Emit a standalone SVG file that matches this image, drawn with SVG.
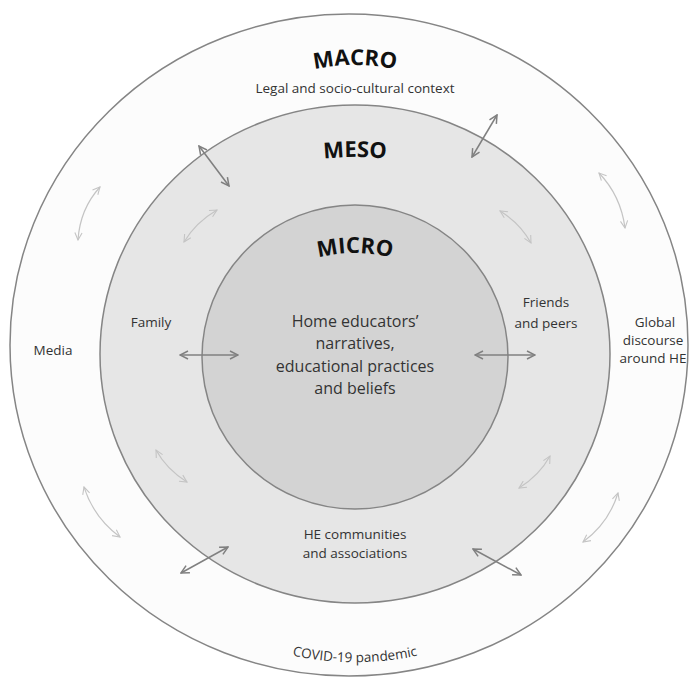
<svg xmlns="http://www.w3.org/2000/svg" xmlns:xlink="http://www.w3.org/1999/xlink" width="693" height="677" viewBox="0 0 693 677">
  <style>
    .ring { stroke: #858585; stroke-width: 1.5; }
    .title { font-family: "Open Sans", "Noto Sans", sans-serif; font-weight: 700; font-size: 22px; fill: #111; }
    .lbl { font-family: "Open Sans", "Noto Sans", sans-serif; font-size: 13.5px; fill: #333; text-anchor: middle; }
    .core { font-family: "Open Sans", "Noto Sans", sans-serif; font-size: 16px; fill: #333; text-anchor: middle; }
    .strong { fill: none; stroke: #808080; stroke-width: 1.5; marker-start: url(#headDark); marker-end: url(#headDark); }
    .soft { fill: none; stroke: #c4c4c4; stroke-width: 1.2; marker-start: url(#headLight); marker-end: url(#headLight); }
  </style>
  <defs>
    <marker id="headDark" viewBox="0 0 10 10" refX="9" refY="5" markerWidth="10" markerHeight="10" markerUnits="userSpaceOnUse" orient="auto-start-reverse">
      <path d="M1,1 L9,5 L1,9" fill="none" stroke="#808080" stroke-width="1.5"/>
    </marker>
    <marker id="headLight" viewBox="0 0 10 10" refX="9" refY="5" markerWidth="9" markerHeight="9" markerUnits="userSpaceOnUse" orient="auto-start-reverse">
      <path d="M1,1 L9,5 L1,9" fill="none" stroke="#c4c4c4" stroke-width="1.2"/>
    </marker>
    <path id="arcMacro" d="M205,132.7 A200,200 0 0 1 505,132.7"/>
    <path id="arcMeso" d="M205,197.2 A300,300 0 0 1 505,197.2"/>
    <path id="arcMicro" d="M255,291.2 A150,150 0 0 1 455,291.2"/>
    <path id="arcCovid" d="M205,622 A300,300 0 0 0 505,622"/>
  </defs>

  <rect width="693" height="677" fill="#ffffff"/>

  <!-- outer ring: macro level -->
  <g id="macro">
    <ellipse class="ring" cx="349" cy="345" rx="339" ry="331" fill="#fcfcfc"/>
    <text class="title"><textPath xlink:href="#arcMacro" startOffset="50%" text-anchor="middle">MACRO</textPath></text>
    <text class="lbl" x="355" y="93">Legal and socio-cultural context</text>
    <text class="lbl" x="53" y="355">Media</text>
    <text class="lbl" x="655" y="327" font-size="11.5">Global</text>
    <text class="lbl" x="653" y="345" font-size="13.5">discourse</text>
    <text class="lbl" x="653" y="363" font-size="11.5">around HE</text>
    <text class="lbl"><textPath xlink:href="#arcCovid" startOffset="50%" text-anchor="middle">COVID-19 pandemic</textPath></text>
  </g>

  <!-- middle ring: meso level -->
  <g id="meso">
    <ellipse class="ring" cx="355" cy="354" rx="255" ry="249" fill="#e6e6e6"/>
    <text class="title"><textPath xlink:href="#arcMeso" startOffset="50%" text-anchor="middle">MESO</textPath></text>
    <text class="lbl" x="151" y="327">Family</text>
    <text class="lbl" x="546" y="307">Friends</text>
    <text class="lbl" x="546" y="328">and peers</text>
    <text class="lbl" x="355" y="539">HE communities</text>
    <text class="lbl" x="355" y="558">and associations</text>
  </g>

  <!-- core: micro level -->
  <g id="micro">
    <ellipse class="ring" cx="355" cy="357" rx="153" ry="152" fill="#d3d3d3"/>
    <text class="title"><textPath xlink:href="#arcMicro" startOffset="50%" text-anchor="middle">MICRO</textPath></text>
    <text class="core" x="355" y="327">Home educators’</text>
    <text class="core" x="355" y="349">narratives,</text>
    <text class="core" x="355" y="372">educational practices</text>
    <text class="core" x="355" y="394">and beliefs</text>
  </g>

  <!-- two-way influences between levels -->
  <g id="connectors">
    <line class="strong" x1="199" y1="146" x2="229" y2="186"/>
    <line class="strong" x1="497" y1="115" x2="472" y2="157"/>
    <line class="strong" x1="228" y1="547" x2="181" y2="573"/>
    <line class="strong" x1="473" y1="549" x2="521" y2="575"/>
    <line class="strong" x1="180" y1="355" x2="238" y2="355"/>
    <line class="strong" x1="475" y1="355" x2="535" y2="355"/>

    <path class="soft" d="M217,210 Q195.9,222.2 184,242"/>
    <path class="soft" d="M500,211 Q520.2,223.3 531,243"/>
    <path class="soft" d="M156,450 Q166.4,469.1 187,482"/>
    <path class="soft" d="M550,456 Q539.5,475.3 519,488"/>

    <path class="soft" d="M100,187 Q80,209 78,240"/>
    <path class="soft" d="M599,173 Q620.8,195.7 625,228"/>
    <path class="soft" d="M84,487 Q93.7,517.6 120,537"/>
    <path class="soft" d="M618,493 Q608.7,523.2 583,542"/>
  </g>
</svg>
